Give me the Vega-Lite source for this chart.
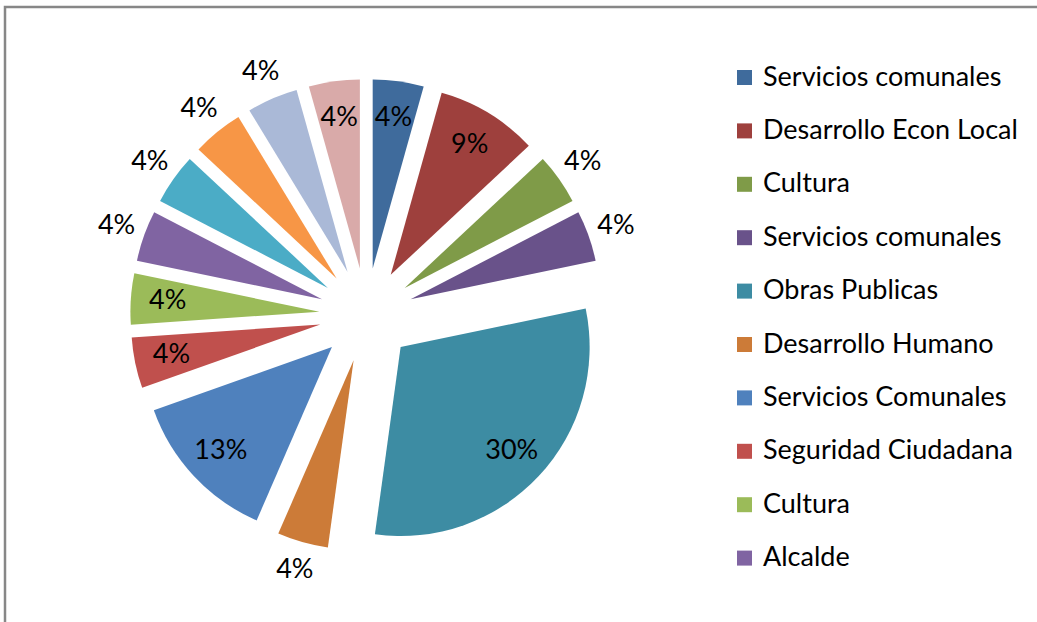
{
  "$schema": "https://vega.github.io/schema/vega-lite/v6.json",
  "width": 1040,
  "height": 622,
  "autosize": {"type": "none"},
  "padding": {"left": 5, "top": 7, "right": 0, "bottom": 0},
  "background": "white",
  "config": {"view": {"stroke": "#878787", "strokeWidth": 2.5}, "font": "Lato"},
  "data": {
    "values": [
      {"id": "01", "name": "Servicios comunales", "n": 1},
      {"id": "02", "name": "Desarrollo Econ Local", "n": 2},
      {"id": "03", "name": "Cultura", "n": 1},
      {"id": "04", "name": "Servicios comunales", "n": 1},
      {"id": "05", "name": "Obras Publicas", "n": 7},
      {"id": "06", "name": "Desarrollo Humano", "n": 1},
      {"id": "07", "name": "Servicios Comunales", "n": 3},
      {"id": "08", "name": "Seguridad Ciudadana", "n": 1},
      {"id": "09", "name": "Cultura", "n": 1},
      {"id": "10", "name": "Alcalde", "n": 1},
      {"id": "11", "name": "Obras Publicas", "n": 1},
      {"id": "12", "name": "Desarrollo Humano", "n": 1},
      {"id": "13", "name": "Servicios comunales", "n": 1},
      {"id": "14", "name": "Cultura", "n": 1}
    ]
  },
  "transform": [
    {"window": [{"op": "sum", "field": "n", "as": "cum"}], "sort": [{"field": "id"}], "frame": [null, 0]},
    {"joinaggregate": [{"op": "sum", "field": "n", "as": "total"}]},
    {"calculate": "datum.cum / datum.total", "as": "a1"},
    {"calculate": "(datum.cum - datum.n) / datum.total", "as": "a0"},
    {"calculate": "(datum.a0 + datum.a1) / 2", "as": "am"},
    {"calculate": "sin(2 * PI * datum.am)", "as": "ox"},
    {"calculate": "cos(2 * PI * datum.am)", "as": "oy"},
    {"calculate": "datum.id + '|' + datum.name", "as": "key"},
    {"calculate": "datum.n / datum.total", "as": "pct"}
  ],
  "layer": [
    {
      "mark": {"type": "arc", "radius": 189, "strokeWidth": 0},
      "encoding": {
        "theta": {"field": "a0", "type": "quantitative", "stack": null, "scale": {"domain": [0, 1], "zero": false, "nice": false}},
        "theta2": {"field": "a1"},
        "x": {"field": "ox", "type": "quantitative", "scale": {"domain": [-7.687, 14.441], "nice": false, "zero": false}, "axis": null},
        "y": {"field": "oy", "type": "quantitative", "scale": {"domain": [-6.681, 6.553], "nice": false, "zero": false}, "axis": null},
        "color": {
          "field": "key",
          "type": "nominal",
          "scale": {
            "domain": ["01|Servicios comunales", "02|Desarrollo Econ Local", "03|Cultura", "04|Servicios comunales", "05|Obras Publicas", "06|Desarrollo Humano", "07|Servicios Comunales", "08|Seguridad Ciudadana", "09|Cultura", "10|Alcalde", "11|Obras Publicas", "12|Desarrollo Humano", "13|Servicios comunales", "14|Cultura"],
            "range": ["#3F6B9C", "#9E403D", "#7F9B48", "#69528A", "#3D8CA3", "#CC7B38", "#4F81BD", "#C0504D", "#9BBB59", "#8064A2", "#4BACC6", "#F79646", "#AAB9D7", "#D9AAA9"]
          },
          "legend": {
            "title": null,
            "orient": "none",
            "legendX": 726,
            "legendY": 57,
            "padding": 0,
            "values": ["01|Servicios comunales", "02|Desarrollo Econ Local", "03|Cultura", "04|Servicios comunales", "05|Obras Publicas", "06|Desarrollo Humano", "07|Servicios Comunales", "08|Seguridad Ciudadana", "09|Cultura", "10|Alcalde"],
            "labelExpr": "split(datum.label, '|')[1]",
            "symbolType": "square",
            "symbolSize": 225,
            "symbolStrokeWidth": 0,
            "labelFont": "Lato",
            "labelFontSize": 27,
            "labelColor": "black",
            "labelOffset": 5,
            "labelLimit": 400,
            "rowPadding": 25.4
          }
        }
      }
    },
    {
      "transform": [{"filter": {"field": "id", "oneOf": ["01", "02", "05", "07", "08", "09", "14"]}}],
      "mark": {"type": "text", "radius": 199, "font": "Lato", "fontSize": 27, "color": "black", "align": "center", "baseline": "middle"},
      "encoding": {
        "theta": {"field": "am", "type": "quantitative", "stack": null, "scale": {"domain": [0, 1], "zero": false, "nice": false}},
        "x": {"datum": 0, "type": "quantitative", "scale": {"domain": [-7.687, 14.441], "nice": false, "zero": false}},
        "y": {"datum": 0, "type": "quantitative", "scale": {"domain": [-6.681, 6.553], "nice": false, "zero": false}},
        "text": {"field": "pct", "type": "quantitative", "format": ".0%"}
      }
    },
    {
      "transform": [{"filter": {"not": {"field": "id", "oneOf": ["01", "02", "05", "07", "08", "09", "14"]}}}],
      "mark": {"type": "text", "radius": 265, "font": "Lato", "fontSize": 27, "color": "black", "align": "center", "baseline": "middle"},
      "encoding": {
        "theta": {"field": "am", "type": "quantitative", "stack": null, "scale": {"domain": [0, 1], "zero": false, "nice": false}},
        "x": {"datum": 0, "type": "quantitative", "scale": {"domain": [-7.687, 14.441], "nice": false, "zero": false}},
        "y": {"datum": 0, "type": "quantitative", "scale": {"domain": [-6.681, 6.553], "nice": false, "zero": false}},
        "text": {"field": "pct", "type": "quantitative", "format": ".0%"}
      }
    }
  ]
}
